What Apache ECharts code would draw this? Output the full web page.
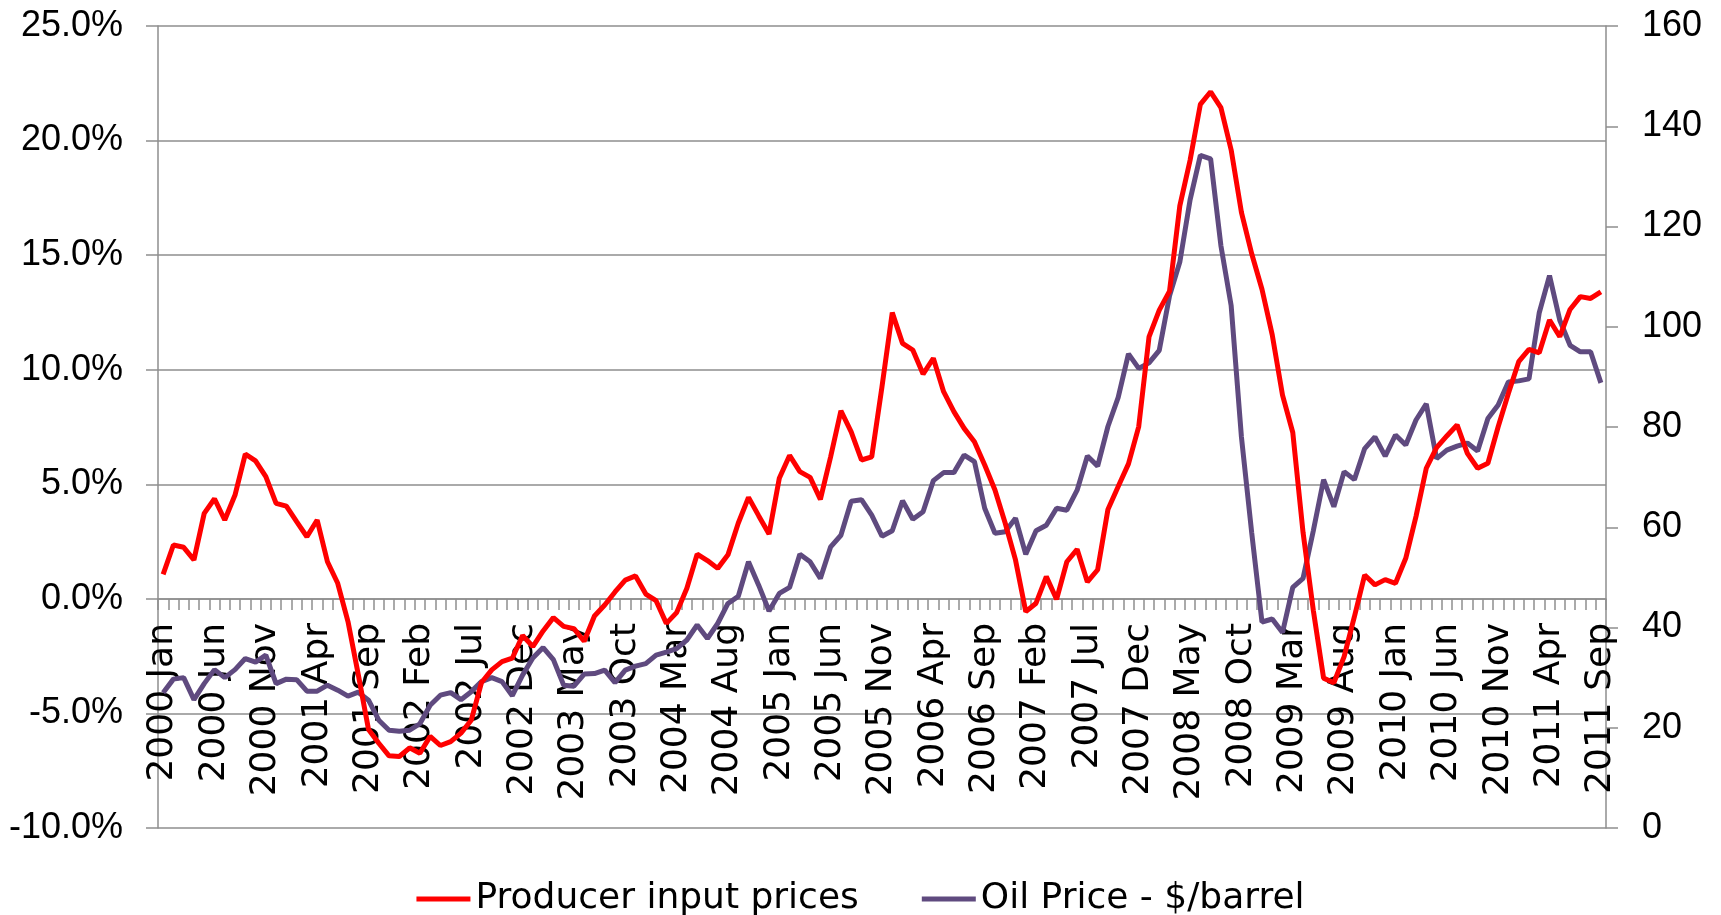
<!DOCTYPE html>
<html>
<head>
<meta charset="utf-8">
<title>Producer input prices vs Oil price</title>
<script src="https://cdn.jsdelivr.net/npm/echarts@6/dist/echarts.min.js"></script>
<style>
html, body { margin: 0; padding: 0; background: #fff; }
#chart { width: 1721px; height: 915px; }
</style>
</head>
<body>
<div id="chart"></div>
<script>
// monthly, 2000 Jan .. 2011 Sep
var monthNames = ['Jan','Feb','Mar','Apr','May','Jun','Jul','Aug','Sep','Oct','Nov','Dec'];
var years = [2000,2001,2002,2003,2004,2005,2006,2007,2008,2009,2010,2011];
var months = [];
years.forEach(function (y) {
    monthNames.forEach(function (m) {
        if (months.length < 141) months.push(y + ' ' + m);
    });
});

// producer input prices, % change on a year ago (left axis)
var producerInput = [
    1.07, 2.35, 2.25, 1.70, 3.73, 4.37, 3.44, 4.53, 6.32, 6.02, 5.33, 4.17,
    4.05, 3.37, 2.71, 3.44, 1.62, 0.68, -0.99, -3.3, -5.7, -6.3, -6.85, -6.88,
    -6.5, -6.74, -6.0, -6.4, -6.23, -5.86, -5.3, -3.65, -3.1, -2.74, -2.59, -1.6,
    -2.08, -1.4, -0.82, -1.2, -1.3, -1.85, -0.75, -0.27, 0.3, 0.82, 1.00, 0.21,
    -0.08, -1.07, -0.6, 0.46, 1.95, 1.67, 1.33, 1.92, 3.30, 4.43, 3.62, 2.83,
    5.26, 6.26, 5.55, 5.30, 4.34, 6.20, 8.21, 7.29, 6.06, 6.20, 9.26, 12.49,
    11.15, 10.86, 9.81, 10.50, 9.04, 8.17, 7.44, 6.86, 5.84, 4.75, 3.30, 1.70,
    -0.56, -0.19, 0.97, -0.02, 1.62, 2.16, 0.74, 1.27, 3.90, 4.90, 5.89, 7.52,
    11.43, 12.60, 13.43, 17.15, 19.14, 21.58, 22.13, 21.44, 19.59, 16.87, 15.06, 13.51,
    11.52, 8.89, 7.26, 2.9, -0.5, -3.46, -3.66, -2.52, -0.78, 1.04, 0.61, 0.84,
    0.68, 1.77, 3.6, 5.7, 6.6, 7.11, 7.59, 6.35, 5.70, 5.92, 7.51, 8.97,
    10.35, 10.89, 10.74, 12.17, 11.44, 12.63, 13.19, 13.11, 13.40
];

// oil price, $/barrel (right axis)
var oilPrice = [
    27.0, 29.7, 30.0, 25.6, 28.8, 31.6, 30.0, 31.6, 33.8, 33.1, 34.5, 28.8,
    29.7, 29.6, 27.3, 27.3, 28.5, 27.5, 26.3, 27.1, 25.5, 21.5, 19.5, 19.3,
    19.5, 20.8, 24.5, 26.5, 27.0, 25.6, 27.2, 29.2, 30.0, 29.2, 26.4, 30.5,
    33.9, 36.0, 33.6, 28.5, 28.3, 30.7, 30.8, 31.5, 29.0, 31.5, 32.3, 32.8,
    34.5, 35.1, 35.8, 37.5, 40.5, 37.8, 40.8, 44.8, 46.2, 53.1, 48.4, 43.3,
    46.8, 48.0, 54.6, 53.1, 49.8, 56.1, 58.4, 65.2, 65.5, 62.4, 58.2, 59.3,
    65.3, 61.6, 63.1, 69.3, 70.9, 70.9, 74.4, 73.1, 63.8, 58.8, 59.1, 61.8,
    54.6, 59.3, 60.4, 63.8, 63.4, 67.4, 74.2, 72.2, 80.1, 85.9, 94.6, 91.7,
    92.8, 95.3, 106.2, 112.9, 125.3, 134.2, 133.5, 116.2, 104.2, 78.0, 58.9, 41.1,
    41.7, 39.0, 48.0, 49.8, 59.3, 69.5, 64.1, 71.1, 69.5, 75.7, 78.0, 74.2,
    78.4, 76.4, 81.4, 84.6, 73.7, 75.4, 76.2, 76.8, 75.2, 81.7, 84.4, 89.0,
    89.2, 89.6, 102.8, 110.2, 101.3, 96.3, 95.0, 95.0, 88.8
];

var gridGray = '#8e8e8e';
var axisFont = 'Liberation Sans, Arial, sans-serif';
var textFont = 'DejaVu Sans, sans-serif';

var chart = echarts.init(document.getElementById('chart'), null, { renderer: 'canvas' });

var option = {
    animation: false,
    backgroundColor: '#ffffff',
    grid: [
        // main plot
        { left: 158, right: 115, top: 26, bottom: 87, containLabel: false, outerBoundsMode: 'none' },
        // same width, bottom edge on the 0% line: carries the month ticks and labels
        { left: 158, right: 115, top: 26, bottom: 316, containLabel: false, outerBoundsMode: 'none' }
    ],
    legend: {
        left: 'center',
        top: 876,
        icon: 'rect',
        itemWidth: 54,
        itemHeight: 5,
        itemGap: 63,
        textStyle: { fontFamily: textFont, fontSize: 36, color: '#000', lineHeight: 36 },
        data: ['Producer input prices', 'Oil Price - $/barrel']
    },
    xAxis: [
        {
            type: 'category',
            gridIndex: 0,
            data: months,
            boundaryGap: true,
            axisLine: { show: false },
            axisTick: { show: false },
            axisLabel: { show: false },
            splitLine: { show: false }
        },
        {
            type: 'category',
            gridIndex: 1,
            data: months,
            boundaryGap: true,
            position: 'bottom',
            axisLine: { onZero: false, lineStyle: { color: gridGray, width: 1.5 } },
            axisTick: { show: true, interval: 0, length: 11, lineStyle: { color: gridGray, width: 1.5 } },
            axisLabel: {
                interval: 4,
                rotate: 90,
                margin: 24,
                hideOverlap: false,
                fontFamily: textFont,
                fontSize: 36,
                color: '#000'
            },
            splitLine: { show: false }
        }
    ],
    yAxis: [
        {
            type: 'value',
            gridIndex: 0,
            min: -10,
            max: 25,
            interval: 5,
            axisLine: { show: true, lineStyle: { color: gridGray, width: 1.5 } },
            axisTick: { show: true, length: 12, lineStyle: { color: gridGray, width: 1.5 } },
            axisLabel: {
                margin: 35,
                fontFamily: axisFont,
                fontSize: 36,
                color: '#000',
                formatter: function (v) { return v.toFixed(1) + '%'; }
            },
            splitLine: { show: true, lineStyle: { color: gridGray, width: 1.5 } }
        },
        {
            type: 'value',
            gridIndex: 0,
            min: 0,
            max: 160,
            interval: 20,
            position: 'right',
            axisLine: { show: true, lineStyle: { color: gridGray, width: 1.5 } },
            axisTick: { show: true, length: 12, lineStyle: { color: gridGray, width: 1.5 } },
            axisLabel: { margin: 36, fontFamily: axisFont, fontSize: 36, color: '#000' },
            splitLine: { show: false }
        },
        {
            type: 'value',
            gridIndex: 1,
            show: false
        }
    ],
    series: [
        {
            name: 'Producer input prices',
            type: 'line',
            xAxisIndex: 0,
            yAxisIndex: 0,
            data: producerInput,
            symbol: 'none',
            color: '#ff0000',
            lineStyle: { color: '#ff0000', width: 5 },
            z: 3
        },
        {
            name: 'Oil Price - $/barrel',
            type: 'line',
            xAxisIndex: 0,
            yAxisIndex: 1,
            data: oilPrice,
            symbol: 'none',
            color: '#5f4a7f',
            lineStyle: { color: '#5f4a7f', width: 5 },
            z: 2
        }
    ]
};

chart.setOption(option);
</script>
</body>
</html>
